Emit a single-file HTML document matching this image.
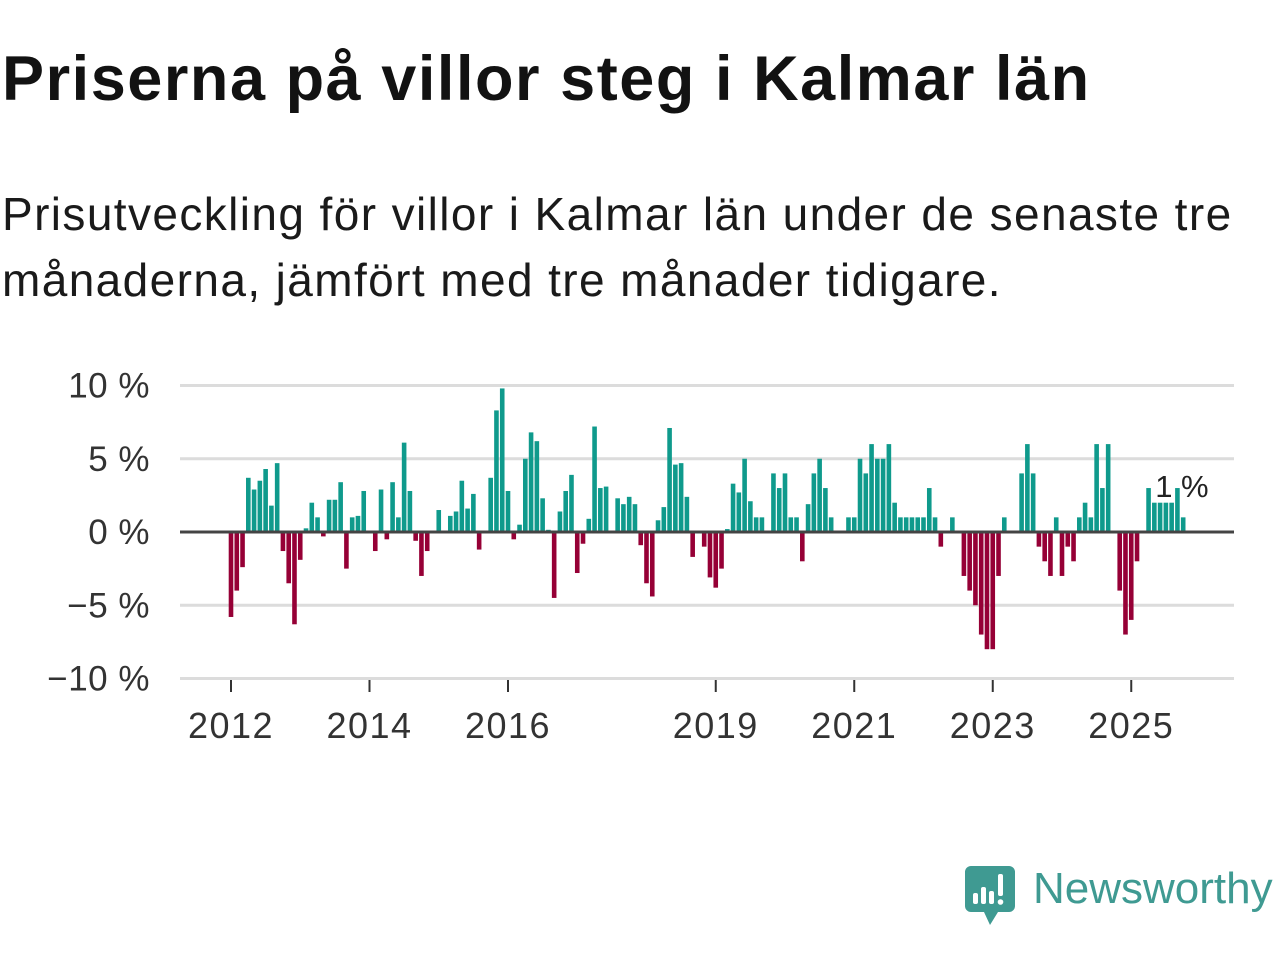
<!DOCTYPE html>
<html><head><meta charset="utf-8"><style>
html,body{margin:0;padding:0;background:#fff;width:1280px;height:960px;overflow:hidden}
body{font-family:"Liberation Sans","DejaVu Sans",sans-serif;color:#121212;position:relative}
#title{position:absolute;left:2px;top:48px;font-size:63px;line-height:63px;font-weight:bold;margin:0;white-space:nowrap;letter-spacing:1.55px}
#subtitle{position:absolute;left:2px;top:181px;font-size:46px;line-height:66px;margin:0;width:1278px;color:#1a1a1a;letter-spacing:1.4px;white-space:nowrap}
svg{position:absolute;left:0;top:0}
</style></head><body>
<h1 id="title">Priserna på villor steg i Kalmar län</h1>
<p id="subtitle">Prisutveckling för villor i Kalmar län under de senaste tre<br>månaderna, jämfört med tre månader tidigare.</p>
<svg id="chart" width="1280" height="960"></svg>
<script>
const startYear = 2012;
const values = [
-5.8,-4.0,-2.4,3.7,2.9,3.5,4.3,1.8,4.7,-1.3,-3.5,-6.3,
-1.9,0.25,2.0,1.0,-0.3,2.2,2.2,3.4,-2.5,1.0,1.1,2.8,
0,-1.3,2.9,-0.5,3.4,1.0,6.1,2.8,-0.6,-3.0,-1.3,0,
1.5,0,1.1,1.4,3.5,1.6,2.6,-1.2,0,3.7,8.3,9.8,
2.8,-0.5,0.5,5.0,6.8,6.2,2.3,0.15,-4.5,1.4,2.8,3.9,
-2.8,-0.8,0.9,7.2,3.0,3.1,0,2.3,1.9,2.4,1.9,-0.9,
-3.5,-4.4,0.8,1.7,7.1,4.6,4.7,2.4,-1.7,0,-1.0,-3.1,
-3.8,-2.5,0.2,3.3,2.7,5.0,2.1,1.0,1.0,0,4.0,3.0,
4.0,1.0,1.0,-2.0,1.9,4.0,5.0,3.0,1.0,0,0,1.0,
1.0,5.0,4.0,6.0,5.0,5.0,6.0,2.0,1.0,1.0,1.0,1.0,
1.0,3.0,1.0,-1.0,0,1.0,0,-3.0,-4.0,-5.0,-7.0,-8.0,
-8.0,-3.0,1.0,0,0,4.0,6.0,4.0,-1.0,-2.0,-3.0,1.0,
-3.0,-1.0,-2.0,1.0,2.0,1.0,6.0,3.0,6.0,0,-4.0,-7.0,
-6.0,-2.0,0,3.0,2.0,2.0,2.0,2.0,3.0,1.0
];
const yTicks = [10,5,0,-5,-10];
const yTickLabels = ["10 %","5 %","0 %","\u22125 %","\u221210 %"];
const xTickYears = [2012,2014,2016,2019,2021,2023,2025];
const lastLabel = "1 %";

const NS = "http://www.w3.org/2000/svg";
const svg = document.getElementById('chart');
const plotL = 180, plotR = 1234;
function xScale(monthIdx){ return 231 + monthIdx * (69.25/12); }
function yScale(v){ return 532 - v * 14.65; }
function mk(tag, attrs){ const e=document.createElementNS(NS,tag); for(const k in attrs) e.setAttribute(k,attrs[k]); svg.appendChild(e); return e; }

yTicks.forEach((t,i)=>{
  if(t!==0){
    const g = mk('line',{x1:plotL,x2:plotR,y1:yScale(t),y2:yScale(t),stroke:'#dcdcdc','stroke-width':3});
    
    
  }
  const tx = mk('text',{x:150,y:yScale(t)+12,'text-anchor':'end','font-size':35,'letter-spacing':0.5,fill:'#333','font-family':'Liberation Sans, sans-serif'});
  tx.textContent = yTickLabels[i];
  
  
});

const bw = 4.6;
values.forEach((v,i)=>{
  if(v===0) return;
  const x = xScale(i);
  const y0 = yScale(0), y1 = yScale(v);
  const r = mk('rect',{x:x-bw/2,y:Math.min(y0,y1),width:bw,height:Math.abs(y1-y0),fill: v>0?'#0f9a8c':'#960036'});
  
  
});

const zl = mk('line',{x1:plotL,x2:plotR,y1:yScale(0),y2:yScale(0),stroke:'#444','stroke-width':3});



xTickYears.forEach(yr=>{
  const x = xScale((yr-startYear)*12);
  const tk = mk('line',{x1:x,x2:x,y1:680,y2:692,stroke:'#333','stroke-width':2});
  
  
  const t = mk('text',{x:x,y:738,'text-anchor':'middle','font-size':36,'letter-spacing':1.5,fill:'#333','font-family':'Liberation Sans, sans-serif'});
  t.textContent = yr;
  
  
});

const li = values.length-1;
const lab = mk('text',{x:xScale(li)-28,y:497,'font-size':31,fill:'#222',stroke:'#fff','stroke-width':5,'paint-order':'stroke','font-family':'Liberation Sans, sans-serif'});
lab.textContent = lastLabel;


</script>
<svg width="1280" height="960" style="position:absolute;left:0;top:0">
  <path d="M971 866 H1009 a6 6 0 0 1 6 6 V906 a6 6 0 0 1 -6 6 H998 L990 925 L984 912 H971 a6 6 0 0 1 -6 -6 V872 a6 6 0 0 1 6 -6 Z" fill="#3f9a92"/>
  <rect x="973" y="893" width="5" height="11" rx="2" fill="#fff"/>
  <rect x="981" y="887" width="5" height="17" rx="2" fill="#fff"/>
  <rect x="989" y="891" width="5" height="13" rx="2" fill="#fff"/>
  <rect x="998" y="874" width="5" height="22" rx="2" fill="#fff"/>
  <circle cx="1000.5" cy="902" r="2.8" fill="#fff"/>
  <text x="1033" y="903" font-size="44" fill="#3f9a92" font-family="Liberation Sans, sans-serif">Newsworthy</text>
</svg>
</body></html>
